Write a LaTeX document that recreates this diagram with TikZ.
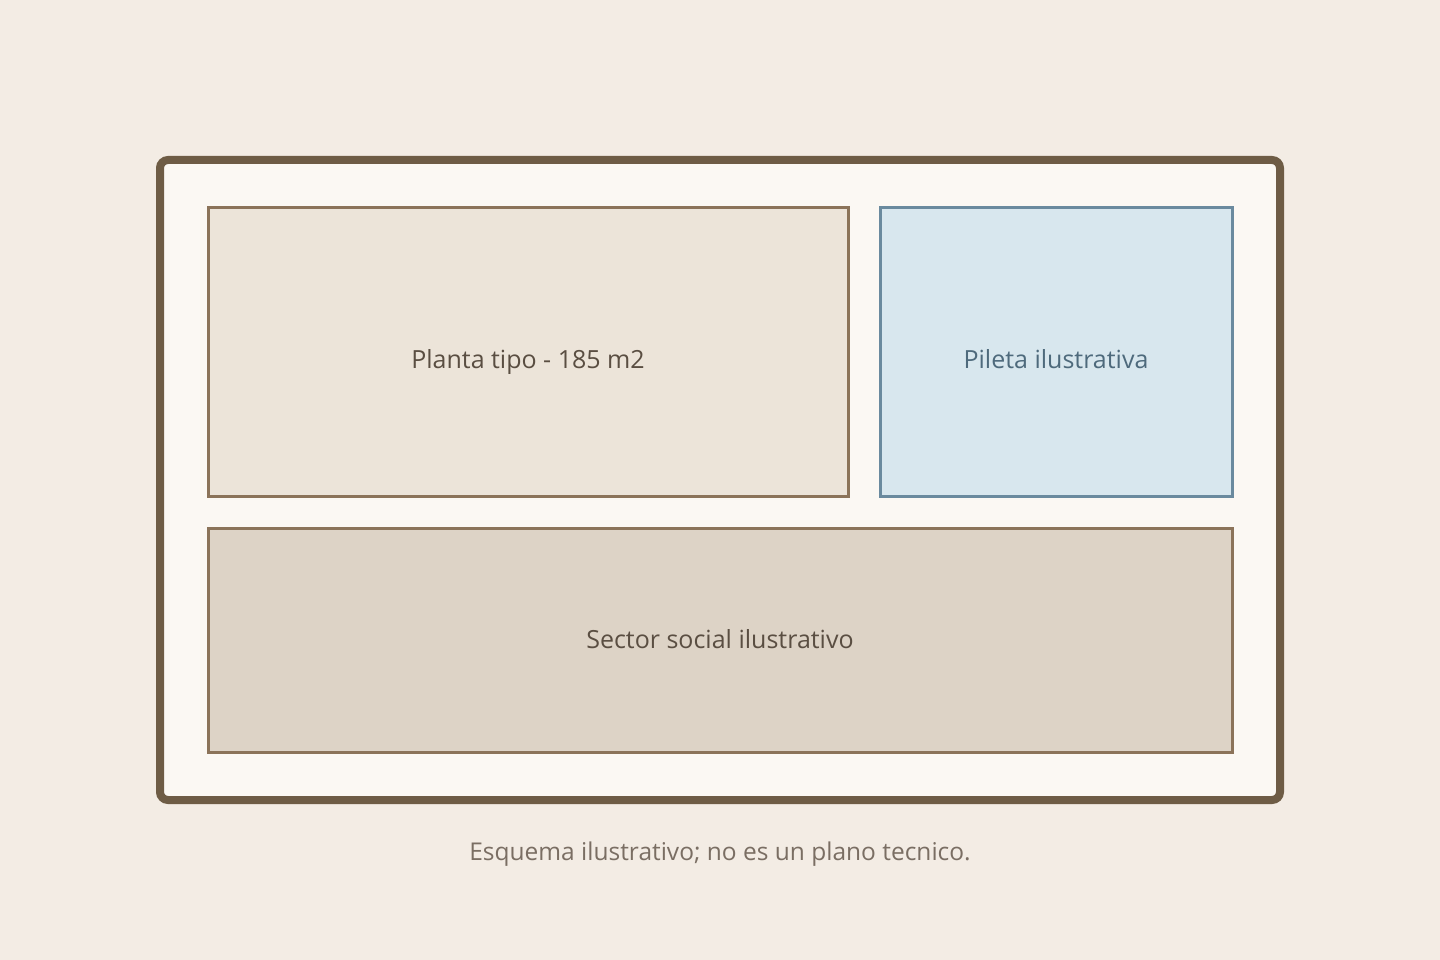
\documentclass[tikz,border=0pt]{standalone}
\usepackage{fontspec}
\setmainfont{Open Sans}
\definecolor{bg}{HTML}{F3ECE4}
\definecolor{framefill}{HTML}{FBF8F3}
\definecolor{framedraw}{HTML}{6E5C45}
\definecolor{plantafill}{HTML}{ECE4D9}
\definecolor{boxdraw}{HTML}{8B7359}
\definecolor{piletafill}{HTML}{D8E7EE}
\definecolor{piletadraw}{HTML}{6A8A9E}
\definecolor{sectorfill}{HTML}{DDD3C6}
\definecolor{txt}{HTML}{5A4E42}
\definecolor{piletatxt}{HTML}{4E6A7C}
\definecolor{captxt}{HTML}{7A6E63}
\begin{document}
\begin{tikzpicture}[x=1pt,y=-1pt,
  room/.style={draw=boxdraw,line width=3pt},
  lbl/.style={font=\fontsize{25}{30}\selectfont,text=txt,anchor=base,inner sep=0pt}]
\fill[bg] (0,0) rectangle (1440,960);
\useasboundingbox (0,0) rectangle (1440,960);
\draw[draw=framedraw,fill=framefill,line width=8pt,rounded corners=8pt] (160,160) rectangle (1280,800);
\draw[room,fill=plantafill] (208,208) rectangle (848,496);
\draw[draw=piletadraw,line width=3pt,fill=piletafill] (880,208) rectangle (1232,496);
\draw[room,fill=sectorfill] (208,528) rectangle (1232,752);
\node[lbl] (planta) at (528,368) {Planta tipo - 185 m2};
\node[lbl,text=piletatxt] (pileta) at (1056,368) {Pileta ilustrativa};
\node[lbl] (sector) at (720,648) {Sector social ilustrativo};
\node[lbl,text=captxt,font=\fontsize{24.5}{30}\selectfont] (cap) at (720,860) {Esquema ilustrativo; no es un plano tecnico.};
\end{tikzpicture}
\end{document}
